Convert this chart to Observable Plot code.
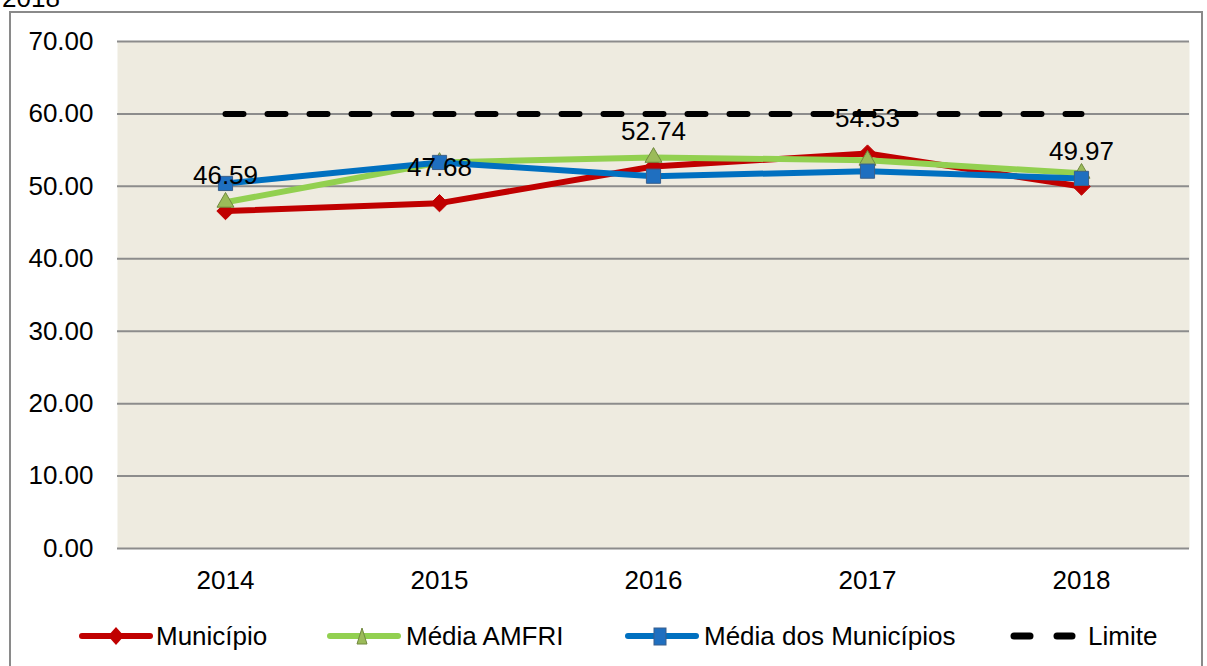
<!DOCTYPE html>
<html><head><meta charset="utf-8">
<script src="https://cdn.jsdelivr.net/npm/d3@7"></script>
<script src="https://cdn.jsdelivr.net/npm/@observablehq/plot@0.6"></script>
<style>
body{margin:0;background:#fff;font-family:"Liberation Sans",Arial,sans-serif;width:1207px;height:666px;overflow:hidden;position:relative;}
#frame{position:absolute;left:9px;top:11px;width:1194px;height:700px;border:2px solid #8a8a8a;box-sizing:border-box;}
#title{position:absolute;left:2px;top:-17px;font-size:26px;line-height:30px;color:#000;}
#chart{position:absolute;left:0;top:0;}
.leg{position:absolute;top:620px;display:flex;align-items:center;font-size:26px;height:32px;color:#000;white-space:nowrap;}
.leg svg{display:block;}
</style></head>
<body>
<div id="frame"></div>
<div id="title">2018</div>
<div id="chart"></div>
<div id="legend"></div>
<script>
const years = ["2014", "2015", "2016", "2017", "2018"];
const municipio = [46.59, 47.68, 52.74, 54.53, 49.97];
const mediaAmfri = [47.8, 53.3, 54.0, 53.6, 51.8];
const mediaMunicipios = [50.4, 53.3, 51.4, 52.1, 51.1];
const limite = [60, 60, 60, 60, 60];
const yTicks = [0, 10, 20, 30, 40, 50, 60, 70];
const seriesNames = ["Município", "Média AMFRI", "Média dos Municípios", "Limite"];

const rows = (vals) => years.map((y, i) => ({year: y, value: vals[i]}));
const dMun = rows(municipio), dAmf = rows(mediaAmfri), dMed = rows(mediaMunicipios), dLim = rows(limite);

const red = "#C00000", green = "#92D050", blue = "#0070C0";

const plot = Plot.plot({
  width: 1207,
  height: 610,
  marginLeft: 117,
  marginRight: 18,
  marginTop: 41,
  marginBottom: 62,
  style: {fontFamily: "Liberation Sans, Arial, sans-serif", fontSize: "26px", color: "#000", background: "transparent"},
  x: {type: "point", domain: years, padding: 0.5, label: null, tickSize: 0, tickPadding: 22},
  y: {domain: [0, 70], ticks: yTicks, tickFormat: d3.format(".2f"), label: null, tickSize: 0, tickPadding: 24},
  marks: [
    Plot.frame({fill: "#EEEBE0", stroke: null}),
    Plot.ruleY(yTicks, {stroke: "#8c8c8c", strokeWidth: 2}),
    Plot.line(dMun, {x: "year", y: "value", stroke: red, strokeWidth: 6}),
    Plot.dot(dMun, {x: "year", y: "value", symbol: "diamond2", r: 7.8, fill: red, stroke: red, strokeWidth: 1}),
    Plot.line(dAmf, {x: "year", y: "value", stroke: green, strokeWidth: 6}),
    Plot.dot(dAmf, {x: "year", y: "value", symbol: "triangle", r: 6.3, fill: "#9BBB59", stroke: "#71893F", strokeWidth: 1}),
    Plot.line(dMed, {x: "year", y: "value", stroke: blue, strokeWidth: 6}),
    Plot.dot(dMed, {x: "year", y: "value", symbol: "square", r: 8, fill: "#1F6FC0", stroke: "#3A5F8B", strokeWidth: 1}),
    Plot.line(dLim, {x: "year", y: "value", stroke: "#000", strokeWidth: 6, strokeDasharray: "18,24", strokeLinecap: "round"}),
    Plot.text(dMun, {x: "year", y: "value", text: d => d.value.toFixed(2), dy: -35, fontSize: 26, fill: "#000"})
  ]
});
document.getElementById("chart").appendChild(plot);

// legend
const legendItems = [
  {name: seriesNames[0], left: 78, kind: "diamond"},
  {name: seriesNames[1], left: 326, kind: "triangle"},
  {name: seriesNames[2], left: 624, kind: "square"},
  {name: seriesNames[3], left: 1006, kind: "dash"}
];
const leg = document.getElementById("legend");
for (const it of legendItems) {
  const div = document.createElement("div");
  div.className = "leg";
  div.style.left = it.left + "px";
  let sw = "";
  if (it.kind === "diamond") sw = `<svg width="76" height="24"><line x1="4" y1="12" x2="72" y2="12" stroke="${red}" stroke-width="6" stroke-linecap="round"/><path d="M38,3 L46,12 L38,21 L30,12Z" fill="${red}"/></svg>`;
  if (it.kind === "triangle") sw = `<svg width="78" height="24"><line x1="4" y1="12" x2="72" y2="12" stroke="${green}" stroke-width="6" stroke-linecap="round"/><path d="M36,4 L41,20 L31,20Z" fill="#9BBB59" stroke="#71893F"/></svg>`;
  if (it.kind === "square") sw = `<svg width="78" height="24"><line x1="4" y1="12" x2="72" y2="12" stroke="${blue}" stroke-width="6" stroke-linecap="round"/><rect x="30" y="4" width="12" height="17" fill="#1F6FC0" stroke="#3A5F8B"/></svg>`;
  if (it.kind === "dash") sw = `<svg width="80" height="24"><line x1="8" y1="12" x2="24" y2="12" stroke="#000" stroke-width="7" stroke-linecap="round"/><line x1="51" y1="12" x2="66" y2="12" stroke="#000" stroke-width="7" stroke-linecap="round"/></svg>`;
  div.innerHTML = sw + `<span style="margin-left:2px">${it.name}</span>`;
  leg.appendChild(div);
}
</script>
</body></html>
